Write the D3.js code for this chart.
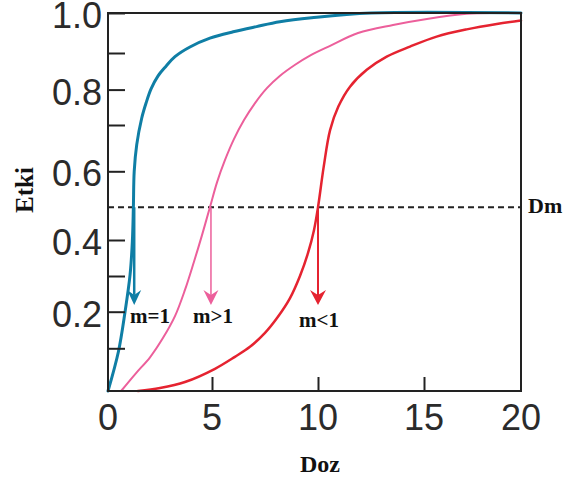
<!DOCTYPE html>
<html><head><meta charset="utf-8">
<script src="https://cdn.jsdelivr.net/npm/d3@7"></script>
<style>html,body{margin:0;padding:0;background:#fff;}svg{display:block;}</style>
</head><body>
<svg id="chart" width="563" height="484"></svg>
<script>
// ---- data ----
const xTickValues = [0, 5, 10, 15, 20];
const yMajorTicks = [0.2, 0.4, 0.6, 0.8, 1.0];
const yMinorTicks = [0.1, 0.3, 0.7, 0.9];
const yTickLabels = ["0.2", "0.4", "0.6", "0.8", "1.0"];
const xTickLabels = ["0", "5", "10", "15", "20"];

const blueCurve = [[0,0],[0.5,0.092],[0.82,0.2],[1.06,0.303],[1.17,0.395],[1.22,0.5],[1.26,0.6],[1.38,0.657],[1.62,0.719],[1.83,0.762],[2.07,0.802],[2.4,0.837],[2.79,0.864],[3.22,0.89],[3.94,0.915],[4.9,0.937],[6.0,0.953],[7.1,0.966],[8.2,0.978],[9.7,0.988],[12.5,1.0],[20,1.0]];
const pinkCurve = [[0.63,0],[1.35,0.042],[2.02,0.079],[2.64,0.128],[3.22,0.188],[3.7,0.261],[4.13,0.339],[4.52,0.415],[4.9,0.5],[5.24,0.57],[5.61,0.624],[6.04,0.67],[6.51,0.714],[7.03,0.762],[7.59,0.804],[8.21,0.838],[8.92,0.868],[9.62,0.893],[10.57,0.918],[11.89,0.95],[13.54,0.97],[15.15,0.985],[17.2,0.998],[18.4,1.0]];
const redCurve = [[1.44,0],[2.5,0.007],[3.7,0.021],[5.14,0.052],[6.08,0.08],[6.79,0.104],[7.5,0.142],[8.11,0.186],[8.68,0.238],[9.15,0.3],[9.53,0.364],[9.81,0.43],[10.0,0.5],[10.27,0.61],[10.57,0.689],[10.96,0.752],[11.51,0.808],[12.3,0.854],[13.24,0.89],[14.34,0.916],[15.65,0.941],[17.2,0.959],[18.75,0.9725],[20,0.981]];

const seriesNames = ["m=1", "m>1", "m<1"];
const seriesColors = ["#0f7ea5", "#ec5f9b", "#e52330"];
const dmValues = [1.26, 4.95, 10.0];   // dose at 50% effect
const dmEffect = 0.5;
const arrowTipEffect = 0.219;

// ---- scales ----
const x = d3.scaleLinear().domain([0, 5, 10, 15, 20]).range([108, 212, 318, 424, 521]);
const y = d3.scaleLinear()
  .domain([0, 0.1, 0.2, 0.3, 0.4, 0.5, 0.6, 0.7, 0.8, 0.9, 1.0])
  .range([391, 348.3, 311.7, 276, 240, 207.3, 171.3, 125, 89.6, 53, 13]);

const svg = d3.select("#chart");
const ink = "#222";

// dashed Dm line
svg.append("line")
  .attr("x1", x(0)).attr("x2", x(20)).attr("y1", y(dmEffect)).attr("y2", y(dmEffect))
  .attr("stroke", ink).attr("stroke-width", 2).attr("stroke-dasharray", "6,4");

// curves
const line = d3.line().x(d => x(d[0])).y(d => y(d[1])).curve(d3.curveCatmullRom.alpha(0.5));
const curves = [blueCurve, pinkCurve, redCurve];
const widths = [3, 2, 2.5];
curves.forEach((c, i) => {
  svg.append("path").datum(c).attr("d", line)
    .attr("fill", "none").attr("stroke", seriesColors[i]).attr("stroke-width", widths[i])
    .attr("stroke-linejoin", "round").attr("stroke-linecap", "round");
});

// arrows
const arrowW = [2.5, 1.5, 2];
const headHalf = [7, 7.5, 8];
dmValues.forEach((dm, i) => {
  const px = x(dm), tip = y(arrowTipEffect), top = y(dmEffect);
  const h = 15, notch = 10;
  svg.append("line").attr("x1", px).attr("x2", px).attr("y1", top).attr("y2", tip - notch)
    .attr("stroke", seriesColors[i]).attr("stroke-width", arrowW[i]);
  svg.append("path")
    .attr("d", `M${px},${tip} L${px - headHalf[i]},${tip - h} L${px},${tip - notch} L${px + headHalf[i]},${tip - h} Z`)
    .attr("fill", seriesColors[i]);
});

// frame
svg.append("rect").attr("x", x(0)).attr("y", y(1)).attr("width", x(20) - x(0)).attr("height", y(0) - y(1))
  .attr("fill", "none").attr("stroke", ink).attr("stroke-width", 2);

// y ticks (inward)
const yAxis = d3.axisRight(y).tickValues(yMajorTicks.concat(yMinorTicks)).tickSize(17).tickFormat("");
const gy = svg.append("g").attr("transform", `translate(${x(0)},0)`).call(yAxis);
gy.select(".domain").remove();
gy.selectAll(".tick line").attr("stroke", ink).attr("stroke-width", 2);

// x ticks (inward)
const xAxis = d3.axisTop(x).tickValues([5, 10, 15]).tickSize(14).tickFormat("");
const gx = svg.append("g").attr("transform", `translate(0,${y(0)})`).call(xAxis);
gx.select(".domain").remove();
gx.selectAll(".tick line").attr("stroke", ink).attr("stroke-width", 2);

// tick labels
svg.append("g").selectAll("text").data(yMajorTicks).join("text")
  .attr("x", 102).attr("y", d => y(d) + 15)
  .attr("text-anchor", "end")
  .attr("font-family", "Liberation Sans, Arial, sans-serif").attr("font-size", 36).attr("fill", "#2b2b2b")
  .text((d, i) => yTickLabels[i]);

svg.append("g").selectAll("text").data(xTickValues).join("text")
  .attr("x", d => x(d)).attr("y", 430)
  .attr("text-anchor", "middle")
  .attr("font-family", "Liberation Sans, Arial, sans-serif").attr("font-size", 36).attr("fill", "#2b2b2b")
  .text((d, i) => xTickLabels[i]);

// axis titles
const serif = "Liberation Serif, 'Times New Roman', serif";
svg.append("text").attr("transform", "translate(33,190) rotate(-90)")
  .attr("text-anchor", "middle").attr("font-family", serif).attr("font-weight", "bold")
  .attr("font-size", 25).attr("fill", "#111").text("Etki");
svg.append("text").attr("x", 320).attr("y", 472)
  .attr("text-anchor", "middle").attr("font-family", serif).attr("font-weight", "bold")
  .attr("font-size", 24).attr("fill", "#111").text("Doz");
svg.append("text").attr("x", 528).attr("y", 213)
  .attr("font-family", serif).attr("font-weight", "bold")
  .attr("font-size", 22).attr("fill", "#111").text("Dm");

// series labels
const labelPos = [[130, 323], [193, 323], [299, 327]];
seriesNames.forEach((n, i) => {
  svg.append("text").attr("x", labelPos[i][0]).attr("y", labelPos[i][1])
    .attr("font-family", serif).attr("font-weight", "bold")
    .attr("font-size", 21).attr("fill", "#111").text(n);
});
</script>
</body></html>
